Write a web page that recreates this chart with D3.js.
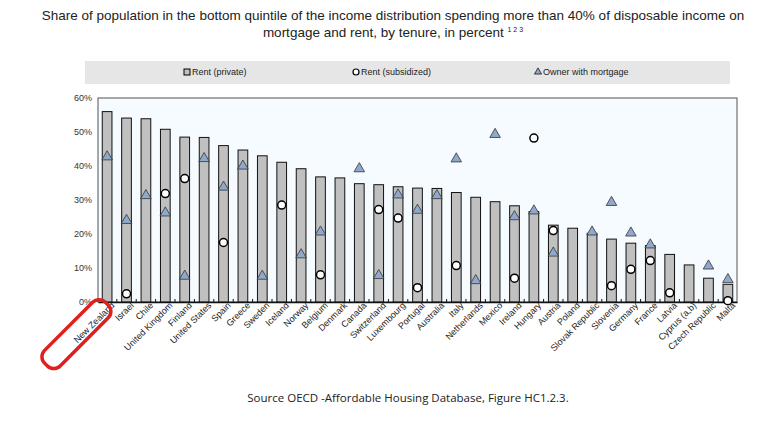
<!DOCTYPE html>
<html><head><meta charset="utf-8">
<script src="https://cdn.jsdelivr.net/npm/d3@7"></script>
<style>
body{margin:0;background:#fff;font-family:"Liberation Sans",Arial,sans-serif}
</style></head>
<body><div id="chart"></div>
<script>
// private rent, subsidized rent, owner with mortgage (null = not available)
const data = [
    ["New Zealand", 56, null, 42.4], ["Israel", 54.1, 2.4, 23.7], ["Chile", 53.9, null, 31],
    ["United Kingdom", 50.8, 31.9, 25.9], ["Finland", 48.5, 36.3, 7.3], ["United States", 48.4, null, 41.9],
    ["Spain", 46, 17.5, 33.5], ["Greece", 44.7, null, 39.7], ["Sweden", 43, null, 7.3],
    ["Iceland", 41.1, 28.5, null], ["Norway", 39.2, null, 13.6], ["Belgium", 36.8, 8, 20.3],
    ["Denmark", 36.5, null, null], ["Canada", 34.8, null, 38.9], ["Switzerland", 34.5, 27.2, 7.5],
    ["Luxembourg", 33.9, 24.7, 31.2], ["Portugal", 33.5, 4.2, 26.7], ["Australia", 33.4, null, 31],
    ["Italy", 32.2, 10.7, 41.8], ["Netherlands", 30.8, null, 6], ["Mexico", 29.5, null, 49],
    ["Ireland", 28.3, 7, 24.8], ["Hungary", 26.6, 48.2, 26.5], ["Austria", 22.6, 21, 14.1],
    ["Poland", 21.7, null, null], ["Slovak Republic", 20.2, null, 20.3], ["Slovenia", 18.5, 4.8, 29],
    ["Germany", 17.3, 9.6, 20], ["France", 16.6, 12.2, 16.5], ["Latvia", 14, 2.7, null],
    ["Cyprus (a,b)", 10.9, null, null], ["Czech Republic", 7, null, 10.3], ["Malta", 5.2, 0.4, 6.3]
].map(d => ({country: d[0], priv: d[1], sub: d[2], mort: d[3]}))

const W = 777, H = 428
const margin = {top: 98, right: 40, bottom: 126, left: 98}
const svg = d3.select('#chart').append('svg').attr('width', W).attr('height', H)

svg.append('text').attr('x', 393).attr('y', 20).attr('text-anchor', 'middle')
    .style('font-size', '13.5px').attr('fill', '#222')
    .text('Share of population in the bottom quintile of the income distribution spending more than 40% of disposable income on')
const t2 = svg.append('text').attr('x', 393).attr('y', 37).attr('text-anchor', 'middle')
    .style('font-size', '13.5px').attr('fill', '#222')
t2.append('tspan').text('mortgage and rent, by tenure, in percent ')
t2.append('tspan').attr('dy', -5).style('font-size', '7px').text('1 2 3')

// legend
svg.append('rect').attr('x', 85).attr('y', 61).attr('width', 645).attr('height', 23).attr('fill', '#e6e6e6')
const lg = svg.append('g').style('font-size', '9px').attr('fill', '#222')
lg.append('rect').attr('x', 184).attr('y', 69).attr('width', 6).attr('height', 6).attr('fill', '#c0c0c0').attr('stroke', '#000')
lg.append('text').attr('x', 192).attr('y', 75).text('Rent (private)')
lg.append('circle').attr('cx', 356).attr('cy', 72).attr('r', 3).attr('fill', '#fff').attr('stroke', '#000').attr('stroke-width', 1.2)
lg.append('text').attr('x', 361).attr('y', 75).text('Rent (subsidized)')
lg.append('path').attr('d', d3.symbol(d3.symbolTriangle, 22)()).attr('transform', 'translate(538,72)')
    .attr('fill', '#8fa8cc').attr('stroke', '#000').attr('stroke-width', 0.7)
lg.append('text').attr('x', 543).attr('y', 75).text('Owner with mortgage')

const x = d3.scaleBand().domain(data.map(d => d.country))
    .range([margin.left, W - margin.right]).paddingInner(0.5).paddingOuter(0.22)
const y = d3.scaleLinear().domain([0, 60]).range([H - margin.bottom, margin.top])

svg.append('rect').attr('x', margin.left).attr('y', margin.top)
    .attr('width', W - margin.right - margin.left).attr('height', y(0) - margin.top)
    .attr('fill', '#f5fbfe').attr('stroke', '#555').attr('stroke-width', 1)

const yAxis = d3.axisLeft(y).tickValues(d3.range(0, 61, 10)).tickFormat(d => d + '%').tickSize(0).tickPadding(6)
svg.append('g').attr('transform', `translate(${margin.left},0)`).call(yAxis)
    .call(g => g.select('.domain').remove())
    .selectAll('text').style('font-size', '9px').attr('fill', '#333')

svg.selectAll('.bar').data(data).join('rect')
    .attr('x', d => x(d.country)).attr('width', x.bandwidth())
    .attr('y', d => y(d.priv)).attr('height', d => y(0) - y(d.priv))
    .attr('fill', '#c0c0c0').attr('stroke', '#111').attr('stroke-width', 1)

const xAxis = d3.axisBottom(x).tickSize(0).tickPadding(3)
const gx = svg.append('g').attr('transform', `translate(0,${y(0)})`).call(xAxis)
gx.select('.domain').attr('stroke', '#111').attr('stroke-width', 1.5)
gx.selectAll('text').style('font-size', '9px').attr('fill', '#222')
    .attr('text-anchor', 'end').attr('dx', '0.3em').attr('dy', '0.6em')
    .attr('transform', 'rotate(-45)')
// small ticks between bars
svg.append('g').selectAll('line').data(data).join('line')
    .attr('x1', d => x(d.country) - x.step() * 0.25).attr('x2', d => x(d.country) - x.step() * 0.25)
    .attr('y1', y(0) - 3).attr('y2', y(0)).attr('stroke', '#111')

const cx = d => x(d.country) + x.bandwidth() / 2
svg.selectAll('.tri').data(data.filter(d => d.mort != null)).join('path')
    .attr('d', d3.symbol(d3.symbolTriangle, 48)())
    .attr('transform', d => `translate(${cx(d)},${y(d.mort) - 1})`)
    .attr('fill', '#8fa8cc').attr('stroke', '#333').attr('stroke-width', 0.8)
svg.selectAll('.dot').data(data.filter(d => d.sub != null)).join('circle')
    .attr('cx', cx).attr('cy', d => y(d.sub)).attr('r', 4)
    .attr('fill', '#fff').attr('stroke', '#000').attr('stroke-width', 1.5)

// red hand-drawn mark round New Zealand
const nz = x('New Zealand') + x.bandwidth() / 2
svg.append('rect').attr('x', -45).attr('y', -10).attr('width', 86).attr('height', 22).attr('rx', 9)
    .attr('transform', `translate(${nz - 30},${y(0) + 30}) rotate(-45)`)
    .attr('fill', 'none').attr('stroke', '#e0201c').attr('stroke-width', 3.5)

svg.append('text').attr('x', 408).attr('y', 402).attr('text-anchor', 'middle')
    .style('font-size', '11.5px').style('font-family', '"Open Sans",sans-serif').attr('fill', '#222')
    .text('Source OECD -Affordable Housing Database, Figure HC1.2.3.')
</script></body></html>
